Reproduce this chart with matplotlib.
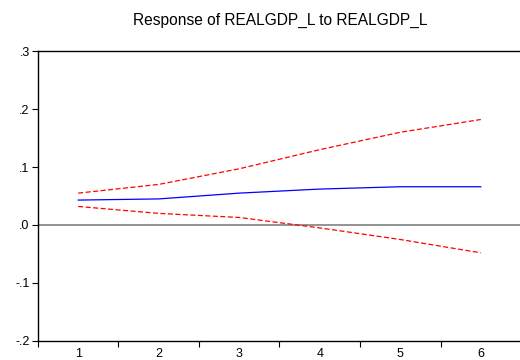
import matplotlib
matplotlib.use("Agg")
import matplotlib.pyplot as plt
from matplotlib.ticker import FixedLocator, FuncFormatter

plt.rcParams['font.family'] = ['Liberation Sans', 'DejaVu Sans']

periods = [1, 2, 3, 4, 5, 6]
response = [0.043, 0.045, 0.055, 0.062, 0.066, 0.066]
upper_band = [0.055, 0.070, 0.097, 0.130, 0.160, 0.182]
lower_band = [0.032, 0.020, 0.013, -0.005, -0.025, -0.048]
y_ticks = [-0.2, -0.1, 0.0, 0.1, 0.2, 0.3]
title = "Response of REALGDP_L to REALGDP_L"

fig = plt.figure(figsize=(5.2, 3.6), dpi=100)
ax = fig.add_axes([0.073, 0.053, 0.929, 0.805])

ax.axhline(0, color='#808080', lw=1.2, zorder=1)
ax.plot(periods, response, color='#0000ff', lw=0.9, zorder=3)
ax.plot(periods, upper_band, color='#ff0000', lw=0.9, ls=(0, (4, 2)), zorder=2)
ax.plot(periods, lower_band, color='#ff0000', lw=0.9, ls=(0, (4, 2)), zorder=2)

ax.set_xlim(0.5, 6.5)
ax.set_ylim(-0.2, 0.3)

# period labels sit between tick marks
ax.xaxis.set_major_locator(FixedLocator([p + 0.5 for p in [0] + periods]))
ax.xaxis.set_major_formatter(FuncFormatter(lambda v, pos: ""))
ax.set_xticks(periods, [str(p) for p in periods], minor=True)
ax.tick_params(axis='x', which='major', direction='out', length=4, width=0.8)
ax.tick_params(axis='x', which='minor', length=0, pad=5, labelsize=9)

def fmt_y(v, pos):
    s = f"{v:.1f}"
    return s.replace("0.", ".")
ax.yaxis.set_major_locator(FixedLocator(y_ticks))
ax.yaxis.set_major_formatter(FuncFormatter(fmt_y))
ax.tick_params(axis='y', direction='out', length=4, width=0.8, labelsize=9, pad=2)

for side in ['left', 'bottom', 'top', 'right']:
    ax.spines[side].set_linewidth(1.0)
    ax.spines[side].set_color('black')

fig.text(0.538, 0.942, title, ha='center', va='center', fontsize=11.2)

fig.savefig("out.png", dpi=100)
